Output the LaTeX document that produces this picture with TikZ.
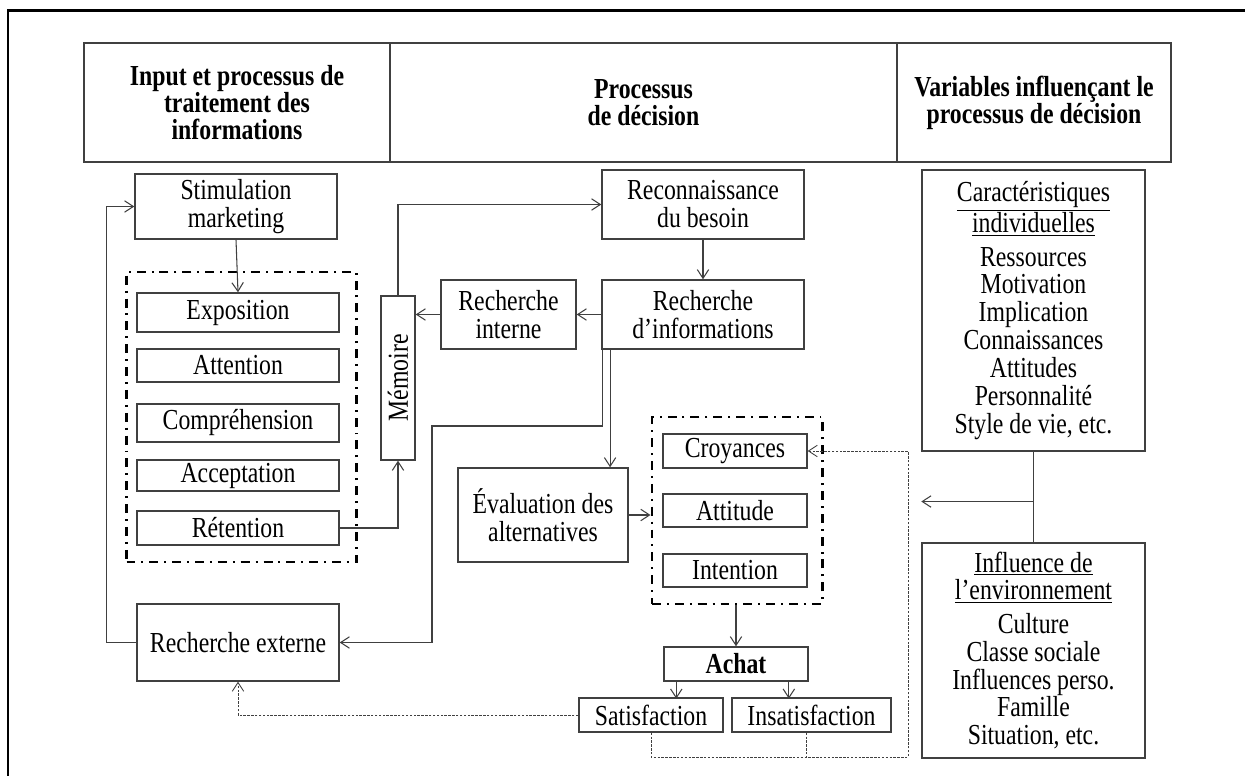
\documentclass[tikz,border=0pt]{standalone}
\usepackage{fontspec}
\setmainfont{Liberation Serif}[FakeStretch=0.82]
\usepackage{graphicx}
\usetikzlibrary{positioning,calc,arrows.meta}
\colorlet{boxcol}{black!75}
\def\pxu{0.02cm}
\tikzstyle{box}=[draw=boxcol,line width=0.8pt,inner sep=0,align=center,font=\fontsize{16.5}{15.9}\selectfont]
\tikzstyle{head}=[box,font=\fontsize{16.5}{15.4}\selectfont\bfseries]
\tikzstyle{group}=[draw=black,line width=1.7pt,dash pattern=on 5.1pt off 3.4pt on 1.1pt off 3.4pt,inner sep=0]
\tikzstyle{arr}=[-{Straight Barb[length=5pt,width=6.5pt]},line width=0.6pt,boxcol]
\tikzstyle{fb}=[arr,dash pattern=on 1.4pt off 0.8pt,line width=0.5pt]
\tikzset{sz/.style 2 args={minimum width=#1*\pxu,minimum height=#2*\pxu}}

\begin{document}
\begin{tikzpicture}[x=\pxu,y=-\pxu]
  \useasboundingbox (0,0) rectangle (1245,776);
  \draw[line width=1.7pt] (8,776) -- (8,11) -- (1245,11);

  % HEADER
  \node[head,sz={306}{119}] (hin) at (237,102.5) {Input et processus de\\traitement des\\informations};
  \node[head,sz={507}{119}] (hpd) at (643.5,102.5) {Processus\\de décision};
  \node[head,sz={274}{119}] (hvar) at (1034,102.5) {Variables influençant le\\processus de décision};

  % INPUT
  \node[box,sz={202}{65}] (stim) at (236,206.5) {Stimulation\\marketing};
  \node[group,sz={230}{290}] (grpL) at (241.5,417) {};
  \node[box,sz={202}{39}] (expo) at (238,312.5) {Exposition};
  \node[box,sz={202}{33}] (atte) at (238,365.5) {Attention};
  \node[box,sz={202}{38}] (comp) at (238,423) {Compréhension};
  \node[box,sz={202}{31}] (acce) at (238,475.5) {Acceptation};
  \node[box,sz={202}{34}] (rete) at (238,528) {Rétention};
  \node[box,sz={202}{77}] (rext) at (238,642.5) {Recherche externe};
  \node[box,sz={34}{164}] (mem) at (398,378) {\rotatebox{90}{Mémoire}};

  % DECISION
  \node[box,sz={135}{69}] (rint) at (508.5,314.5) {Recherche\\interne};
  \node[box,sz={202}{69}] (reco) at (703,204.5) {Reconnaissance\\du besoin};
  \node[box,sz={202}{69}] (rinf) at (703,314.5) {Recherche\\d’informations};
  \node[box,sz={170}{94}] (eval) at (543,515) {Évaluation des\\alternatives};
  \node[group,sz={170}{187}] (grpR) at (737,510.5) {};
  \node[box,sz={144}{34}] (croy) at (735,451) {Croyances};
  \node[box,sz={144}{33}] (atti) at (735,510.5) {Attitude};
  \node[box,sz={144}{33}] (inte) at (735,570.5) {Intention};
  \node[box,sz={144}{34},font=\fontsize{16.5}{15.9}\selectfont\bfseries] (achat) at (736,664) {Achat};
  \node[box,sz={144}{34}] (sat) at (651,715) {Satisfaction};
  \node[box,sz={159}{34}] (insat) at (811.5,715) {Insatisfaction};

  % VARIABLES
  \node[box,sz={223}{281}] (carac) at (1033.5,310.5) {\underline{Caractéristiques}\\\underline{individuelles}\\[3pt]Ressources\\Motivation\\Implication\\Connaissances\\Attitudes\\Personnalité\\Style de vie, etc.};
  \node[box,sz={223}{215}] (envi) at (1033.5,650.5) {\underline{Influence de}\\\underline{l’environnement}\\[3pt]Culture\\Classe sociale\\Influences perso.\\Famille\\Situation, etc.};

  % LINKS
  \draw[arr] (stim.south) -- (expo.north);
  \draw[arr] (rext.west) -- ++(-30,0) |- (stim.west);
  \draw[arr] (rete.east) -| (mem.south);
  \draw[arr] (mem.north) |- (reco.west);
  \draw[arr] (reco.south) -- (rinf.north);
  \draw[arr] (rinf.west) -- (rint.east);
  \draw[arr] (rint.west) -- (rint.west -| mem.east);
  \draw[arr] ([xshift=0.6pt]rinf.south west) |- (432,426) |- (rext.east);
  \draw[arr] ([xshift=5pt]rinf.south west) -- ([xshift=5pt]rinf.south west |- eval.north);
  \draw[arr] (eval.east) -- (eval.east -| grpR.west);
  \draw[arr] (achat.north |- grpR.south) -- (achat.north);
  \draw[arr] ([xshift=7.4pt]achat.south west) -- ++(0,17);
  \draw[arr] ([xshift=-11.3pt]achat.south east) -- ++(0,17);

  % FEEDBACK
  \draw[fb] (sat.west) -| (rext.south);
  \draw[fb] (sat.south) |- (908,757) |- (croy.east);
  \draw[fb,-] ([xshift=-3pt]insat.south) -- ++(0,25);

  % INFLUENCE
  \draw[boxcol,line width=0.6pt] (carac.south) -- (envi.north);
  \coordinate (junc) at ($(carac.south)!0.55!(envi.north)$);
  \draw[arr] (junc) -- (junc -| carac.west);
\end{tikzpicture}
\end{document}
